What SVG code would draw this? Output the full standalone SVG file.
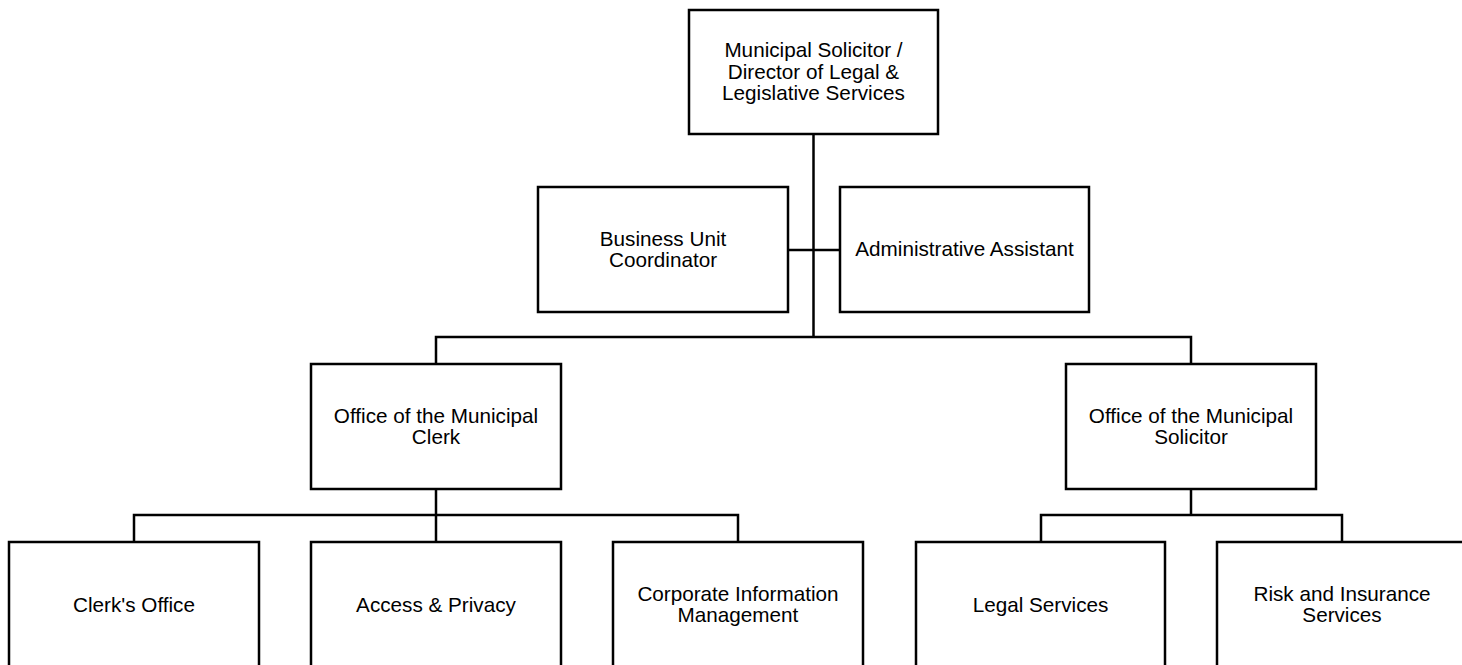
<svg xmlns="http://www.w3.org/2000/svg" width="1462" height="665" viewBox="0 0 1462 665">
  <style>
    .box { fill: #ffffff; stroke: #000000; stroke-width: 2.5; }
    .link { fill: none; stroke: #000000; stroke-width: 2.5; }
    .label { font-family: "Liberation Sans", Arial, sans-serif; font-size: 20.7px; fill: #000000; text-anchor: middle; }
  </style>
  <rect x="0" y="0" width="1462" height="665" fill="#ffffff"/>

  <!-- reporting lines -->
  <g id="connectors">
    <path class="link" d="M813.5 134 V337"/>
    <path class="link" d="M788 250 H840"/>
    <path class="link" d="M436 364 V337 H1191 V364"/>
    <path class="link" d="M436 489 V515"/>
    <path class="link" d="M134 542 V515 H738 V542"/>
    <path class="link" d="M436 515 V542"/>
    <path class="link" d="M1191 489 V515"/>
    <path class="link" d="M1041 542 V515 H1342 V542"/>
  </g>

  <g id="director">
    <rect class="box" x="689" y="10" width="249" height="124"/>
    <text class="label" x="813.5" y="57">Municipal Solicitor /</text>
    <text class="label" x="813.5" y="78.5">Director of Legal &amp;</text>
    <text class="label" x="813.5" y="100">Legislative Services</text>
  </g>

  <g id="business-unit-coordinator">
    <rect class="box" x="538" y="187" width="250" height="125"/>
    <text class="label" x="663" y="246">Business Unit</text>
    <text class="label" x="663" y="267">Coordinator</text>
  </g>

  <g id="administrative-assistant">
    <rect class="box" x="840" y="187" width="249" height="125"/>
    <text class="label" x="964.5" y="256">Administrative Assistant</text>
  </g>

  <g id="municipal-clerk">
    <rect class="box" x="311" y="364" width="250" height="125"/>
    <text class="label" x="436" y="423">Office of the Municipal</text>
    <text class="label" x="436" y="444">Clerk</text>
  </g>

  <g id="municipal-solicitor">
    <rect class="box" x="1066" y="364" width="250" height="125"/>
    <text class="label" x="1191" y="423">Office of the Municipal</text>
    <text class="label" x="1191" y="444">Solicitor</text>
  </g>

  <g id="clerks-office">
    <rect class="box" x="9" y="542" width="250" height="130"/>
    <text class="label" x="134" y="611.5">Clerk's Office</text>
  </g>

  <g id="access-privacy">
    <rect class="box" x="311" y="542" width="250" height="130"/>
    <text class="label" x="436" y="611.5">Access &amp; Privacy</text>
  </g>

  <g id="corporate-information-management">
    <rect class="box" x="613" y="542" width="250" height="130"/>
    <text class="label" x="738" y="601">Corporate Information</text>
    <text class="label" x="738" y="622">Management</text>
  </g>

  <g id="legal-services">
    <rect class="box" x="916" y="542" width="249" height="130"/>
    <text class="label" x="1040.5" y="611.5">Legal Services</text>
  </g>

  <g id="risk-insurance-services">
    <rect class="box" x="1217" y="542" width="260" height="130"/>
    <text class="label" x="1342" y="601">Risk and Insurance</text>
    <text class="label" x="1342" y="622">Services</text>
  </g>
</svg>
